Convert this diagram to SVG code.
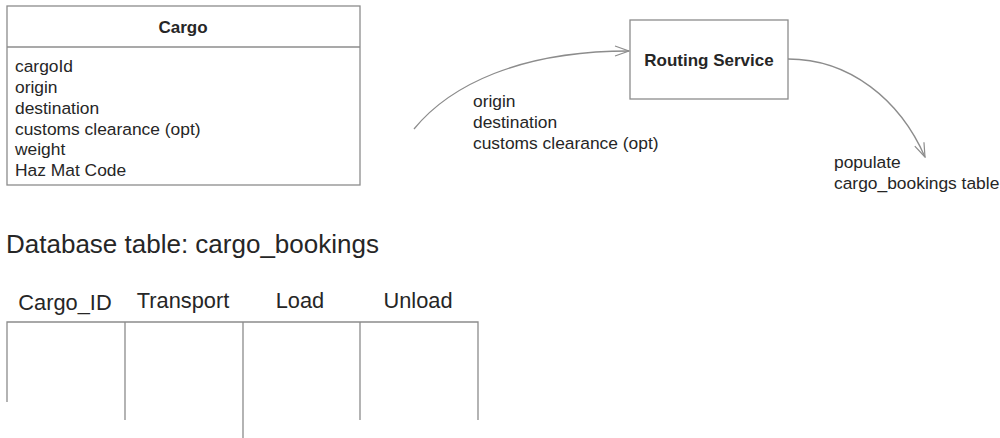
<svg xmlns="http://www.w3.org/2000/svg" width="1000" height="438" viewBox="0 0 1000 438">
<style>
text{font-family:"Liberation Sans",Arial,sans-serif;fill:#262626}
.box{fill:#fff;stroke:#8c8c8c;stroke-width:1.3}
.ln{stroke:#8c8c8c;stroke-width:1.3;fill:none}
.b{font-weight:bold;font-size:17px}
.a{font-size:17.4px}
.h{font-size:21.8px}
</style>
<defs>
<marker id="arr" markerWidth="16" markerHeight="12" refX="15" refY="6" orient="auto" markerUnits="userSpaceOnUse">
<path d="M1,1 L15,6 L1,11" fill="none" stroke="#8c8c8c" stroke-width="1.2"/>
</marker>
</defs>
<g id="cargo">
<rect class="box" x="7" y="6" width="353" height="179"/>
<line class="ln" x1="7" y1="47" x2="360" y2="47"/>
<text class="b" x="183" y="33" text-anchor="middle">Cargo</text>
<text class="a" x="15" y="72">cargoId</text>
<text class="a" x="15" y="93">origin</text>
<text class="a" x="15" y="114">destination</text>
<text class="a" x="15" y="135">customs clearance (opt)</text>
<text class="a" x="15" y="155">weight</text>
<text class="a" x="15" y="176">Haz Mat Code</text>
</g>
<g id="routing">
<rect class="box" x="630" y="20" width="158" height="79"/>
<text class="b" x="709" y="66" text-anchor="middle">Routing Service</text>
</g>
<g id="connectors">
<path class="ln" d="M414,129 C450,85 520,51 629,51" marker-end="url(#arr)"/>
<path class="ln" d="M788,59 C850,59 900,100 925,157" marker-end="url(#arr)"/>
</g>
<g id="labels">
<text class="a" x="473" y="107">origin</text>
<text class="a" x="473" y="128">destination</text>
<text class="a" x="473" y="149">customs clearance (opt)</text>
<text class="a" x="834" y="168">populate</text>
<text class="a" x="834" y="189">cargo_bookings table</text>
</g>
<g id="table">
<text x="6" y="253" style="font-size:26px">Database table: cargo_bookings</text>
<text class="h" x="65" y="310" text-anchor="middle">Cargo_ID</text>
<text class="h" x="183" y="308" text-anchor="middle">Transport</text>
<text class="h" x="300" y="308" text-anchor="middle">Load</text>
<text class="h" x="418" y="308" text-anchor="middle">Unload</text>
<path class="ln" d="M7,402 V322 H478 V420 M125,322 V420 M243,322 V438 M360,322 V420"/>
</g>
</svg>
